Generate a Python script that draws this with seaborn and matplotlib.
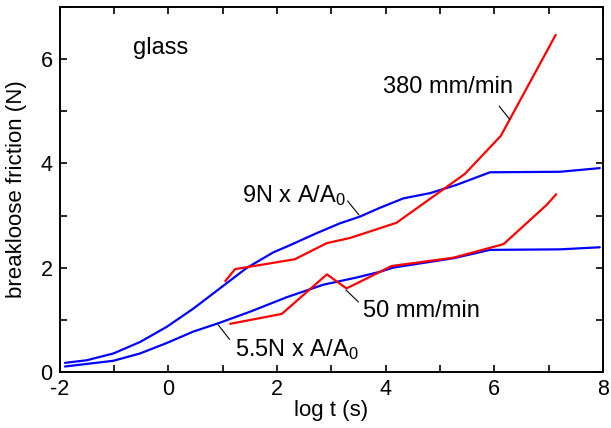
import numpy as np
import pandas as pd
import matplotlib
matplotlib.use("Agg")
import matplotlib.pyplot as plt
import seaborn as sns

# ---- data ----
# blue: 9N x A/A0
blue_hi_x = [-1.90, -1.50, -1.01, -0.52, -0.03, 0.46, 0.95, 1.44, 1.93, 2.24, 2.73, 3.16, 3.53, 3.90, 4.33, 4.82, 5.31, 5.92, 7.21, 7.94]
blue_hi_y = [0.17, 0.22, 0.35, 0.57, 0.86, 1.21, 1.60, 1.99, 2.29, 2.43, 2.66, 2.85, 2.98, 3.15, 3.33, 3.43, 3.59, 3.83, 3.84, 3.91]

# blue: 5.5N x A/A0
blue_lo_x = [-1.90, -1.01, -0.52, -0.03, 0.46, 0.92, 1.50, 2.18, 2.85, 3.47, 3.90, 4.14, 5.25, 5.92, 7.21, 7.94]
blue_lo_y = [0.10, 0.21, 0.35, 0.55, 0.77, 0.93, 1.15, 1.43, 1.67, 1.81, 1.92, 2.00, 2.18, 2.34, 2.35, 2.39]

# red: 380 mm/min
red_hi_x = [1.05, 1.23, 2.33, 2.92, 3.35, 4.20, 5.46, 6.12, 7.13]
red_hi_y = [1.74, 1.97, 2.16, 2.47, 2.57, 2.86, 3.80, 4.53, 6.47]

# red: 50 mm/min
red_lo_x = [1.14, 2.09, 2.92, 3.28, 3.40, 4.11, 5.25, 6.17, 6.96, 7.14]
red_lo_y = [0.92, 1.11, 1.87, 1.60, 1.66, 2.03, 2.19, 2.45, 3.20, 3.41]

curves = {
    "9N": (blue_hi_x, blue_hi_y, "#0000ff"),
    "5.5N": (blue_lo_x, blue_lo_y, "#0000ff"),
    "380": (red_hi_x, red_hi_y, "#ff0000"),
    "50": (red_lo_x, red_lo_y, "#ff0000"),
}

sns.set_style("ticks")
plt.rcParams['font.family'] = ['Liberation Sans', 'DejaVu Sans']
plt.rcParams['mathtext.fontset'] = 'custom'
plt.rcParams['mathtext.rm'] = 'Liberation Sans'
plt.rcParams['mathtext.it'] = 'Liberation Sans'
plt.rcParams['axes.unicode_minus'] = False
for key in ['text.color', 'axes.labelcolor', 'xtick.color', 'ytick.color', 'axes.edgecolor']:
    plt.rcParams[key] = 'black'

fig = plt.figure(figsize=(6.11, 4.28), dpi=100)
ax = fig.add_axes([0.0974, 0.1315, 0.8895, 0.8516])

for name, (xs, ys, col) in curves.items():
    df = pd.DataFrame({"x": xs, "y": ys})
    sns.lineplot(data=df, x="x", y="y", sort=False, estimator=None,
                 color=col, lw=1.6, ax=ax)

ax.set_xlim(-2, 8)
ax.set_ylim(0, 7)
ax.set_xticks(np.arange(-2, 9, 2))
ax.set_xticks(np.arange(-2, 9, 1), minor=True)
ax.set_yticks(np.arange(0, 7, 2))
ax.set_yticks(np.arange(0, 8, 1), minor=True)
ax.tick_params(which="both", direction="in", top=True, right=True,
               length=5, width=1.2, labelsize=15.5, pad=5)
for sp in ax.spines.values():
    sp.set_linewidth(1.4)

ax.set_xlabel("log t (s)", fontsize=16, labelpad=0)
ax.set_ylabel("breakloose friction (N)", fontsize=16, labelpad=10)

# annotations
fs = 17
ax.text(-0.65, 6.22, "glass", fontsize=fs, va="center", ha="left")
ax.text(3.96, 5.47, "380 mm/min", fontsize=fs, va="center", ha="left")
ax.plot([6.09, 6.28], [5.10, 4.85], color="black", lw=0.8)
ax.text(1.36, 3.39, r"9N x A/A$_0$", fontsize=fs, va="center", ha="left")
ax.plot([3.30, 3.51], [3.28, 3.01], color="black", lw=0.8)
ax.text(3.58, 1.16, "50 mm/min", fontsize=fs, va="center", ha="left")
ax.plot([3.27, 3.50], [1.57, 1.34], color="black", lw=0.8)
ax.text(1.22, 0.42, r"5.5N x A/A$_0$", fontsize=fs, va="center", ha="left")
ax.plot([0.92, 1.13], [0.90, 0.62], color="black", lw=0.8)

fig.savefig("out.png", dpi=100)
